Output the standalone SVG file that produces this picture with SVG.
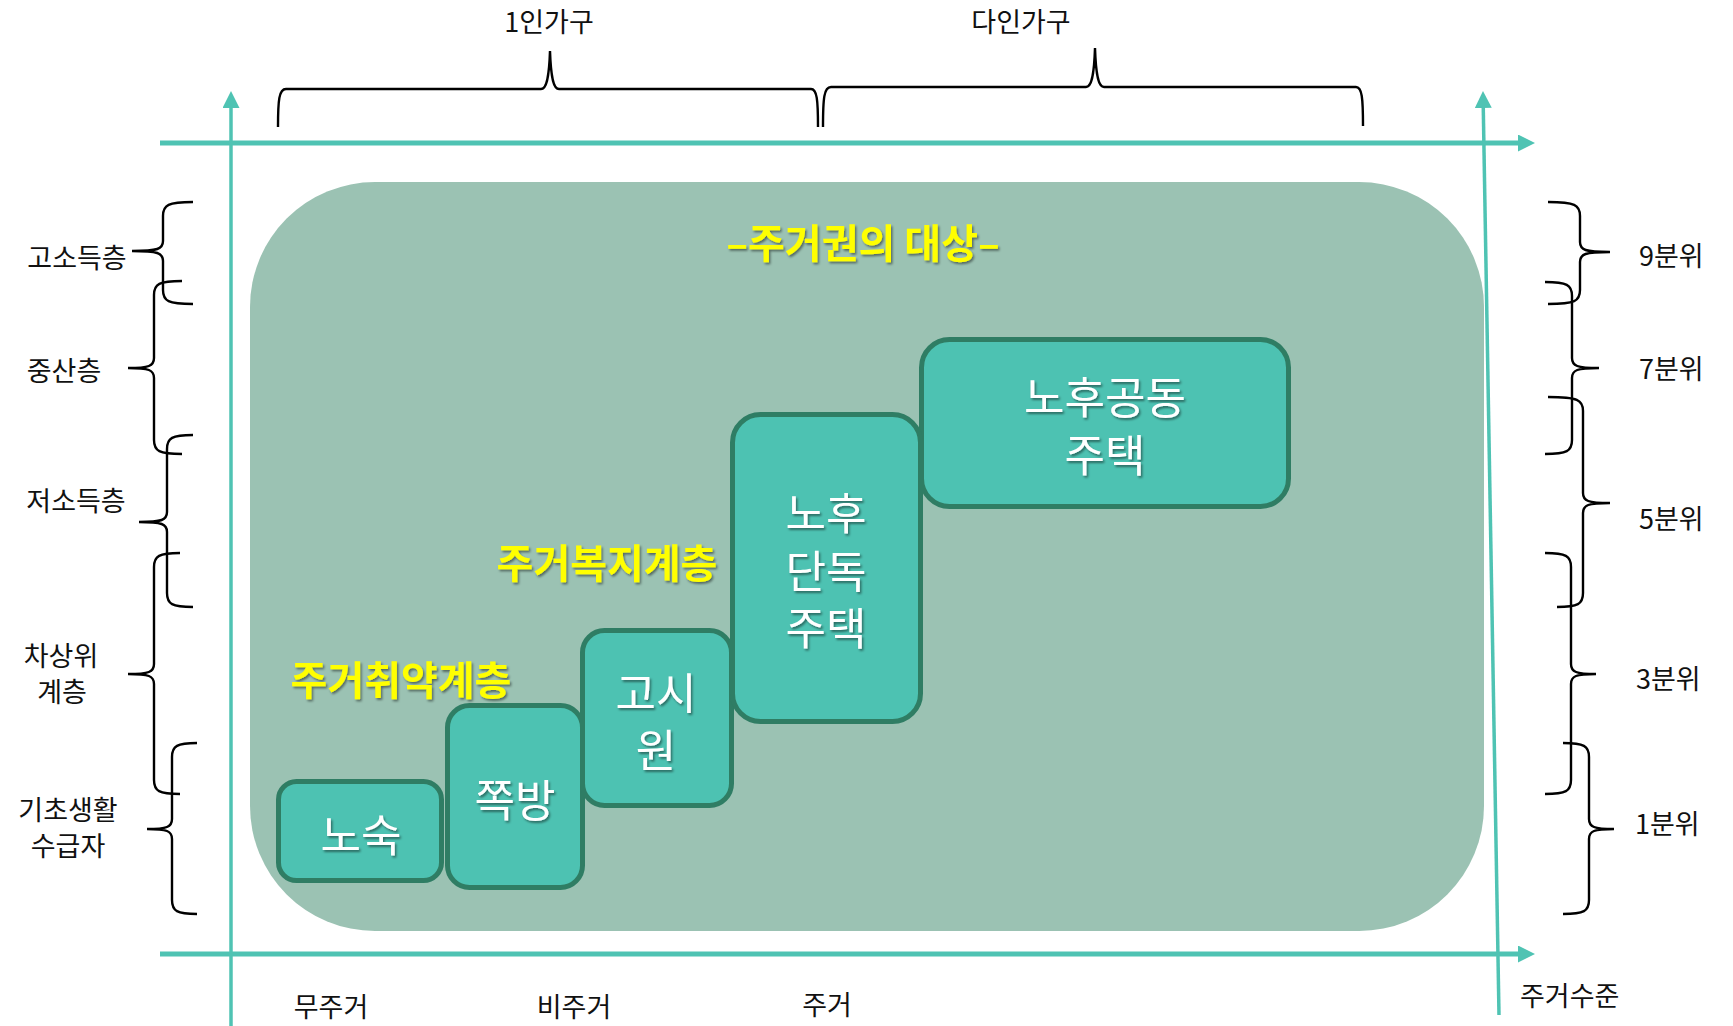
<svg xmlns="http://www.w3.org/2000/svg" width="1733" height="1026" viewBox="0 0 1733 1026">
<style>
.axis{stroke:#4FC3B3;fill:none}
.brace{stroke:#000;stroke-width:2.4;fill:none}
.lbl{font-family:"Noto Sans CJK KR","Noto Sans",sans-serif;font-size:27px;fill:#111}
.node rect{fill:#4DC2B2;stroke:#2F7D64;stroke-width:5}
.ntxt{font-family:"Noto Sans CJK KR","Noto Sans",sans-serif;font-size:44px;fill:#fff;text-anchor:middle;filter:url(#sh)}
.ytxt{font-family:"Noto Sans CJK KR","Noto Sans",sans-serif;font-size:40px;font-weight:bold;fill:#FFFF00;text-anchor:middle;filter:url(#sh)}
.mid{text-anchor:middle}
</style>
<defs>
<filter id="sh" x="-10%" y="-20%" width="130%" height="150%">
<feDropShadow dx="1.5" dy="2" stdDeviation="1" flood-color="#000" flood-opacity="0.45"/>
</filter>
<marker id="ah" markerUnits="userSpaceOnUse" markerWidth="17" markerHeight="17" refX="4" refY="8.5" orient="auto" viewBox="0 0 17 17">
<path d="M0,0 L17,8.5 L0,17 z" fill="#4FC3B3"/>
</marker>
</defs>
<rect width="1733" height="1026" fill="#fff"/>
<g id="background-area">
<rect x="250" y="182" width="1234" height="749" rx="125" ry="125" fill="#9BC2B3"/>
</g>
<g id="connectors">
<line class="axis" x1="160" y1="143" x2="1522" y2="143" stroke-width="5" marker-end="url(#ah)"/>
<line class="axis" x1="160" y1="954" x2="1522" y2="954" stroke-width="5" marker-end="url(#ah)"/>
<line class="axis" x1="231" y1="1026" x2="231" y2="104" stroke-width="3.5" marker-end="url(#ah)"/>
<line class="axis" x1="1499" y1="1015" x2="1483.2" y2="104" stroke-width="3.5" marker-end="url(#ah)"/>
</g>
<g id="braces">
<path class="brace" d="M278,127 C278,100 279,89 286,89 L541,89 C546,89 549,80 550,51 C551,80 554,89 559,89 L811,89 C817,89 818,100 818,127"/>
<path class="brace" d="M823,127 C823,98 824,87 831,87 L1086,87 C1091,87 1094,78 1095,48 C1096,78 1099,87 1104,87 L1356,87 C1362,87 1363,98 1363,126"/>
<path class="brace" d="M193,202 C168,202 163,205 163,216 L163,241 C163,249 158,251 132,251 M132,251 C158,251 163,253 163,261 L163,290 C163,301 168,304 193,304"/>
<path class="brace" d="M182,281 C159,281 154,284 154,295 L154,358 C154,366 149,368 128,368 M128,368 C149,368 154,370 154,378 L154,440 C154,451 159,454 182,454"/>
<path class="brace" d="M193,435 C172,435 167,438 167,449 L167,512 C167,520 162,522 139,522 M139,522 C162,522 167,524 167,532 L167,593 C167,604 172,607 193,607"/>
<path class="brace" d="M180,553 C159,553 154,556 154,567 L154,664 C154,672 149,674 128,674 M128,674 C149,674 154,676 154,684 L154,780 C154,791 159,794 180,794"/>
<path class="brace" d="M197,743 C177,743 172,746 172,757 L172,819 C172,827 167,829 147,829 M147,829 C167,829 172,831 172,839 L172,900 C172,911 177,914 197,914"/>
<path class="brace" d="M1548,202 C1575,202 1580,205 1580,216 L1580,242 C1580,250 1585,252 1610,252 M1610,252 C1585,252 1580,254 1580,262 L1580,290 C1580,301 1575,304 1548,304"/>
<path class="brace" d="M1545,282 C1567,282 1572,285 1572,296 L1572,358 C1572,366 1577,368 1599,368 M1599,368 C1577,368 1572,370 1572,378 L1572,440 C1572,451 1567,454 1545,454"/>
<path class="brace" d="M1548,397 C1578,397 1583,400 1583,411 L1583,493 C1583,501 1588,503 1610,503 M1610,503 C1588,503 1583,505 1583,513 L1583,593 C1583,604 1578,607 1557,607"/>
<path class="brace" d="M1545,553 C1566,553 1571,556 1571,567 L1571,664 C1571,672 1576,674 1596,674 M1596,674 C1576,674 1571,676 1571,684 L1571,780 C1571,791 1566,794 1545,794"/>
<path class="brace" d="M1563,743 C1584,743 1589,746 1589,757 L1589,819 C1589,827 1594,829 1614,829 M1614,829 C1594,829 1589,831 1589,839 L1589,900 C1589,911 1584,914 1563,914"/>
</g>
<g id="top-labels">
<text class="lbl mid" x="549" y="32">1인가구</text>
<text class="lbl mid" x="1021" y="32">다인가구</text>
</g>
<g id="left-labels">
<text class="lbl mid" x="77" y="268">고소득층</text>
<text class="lbl mid" x="64" y="381">중산층</text>
<text class="lbl mid" x="76" y="511">저소득층</text>
<text class="lbl mid" y="666"><tspan x="61">차상위</tspan><tspan x="62" dy="36">계층</tspan></text>
<text class="lbl mid" y="820"><tspan x="68">기초생활</tspan><tspan x="68" dy="36">수급자</tspan></text>
</g>
<g id="right-labels">
<text class="lbl" x="1639" y="266">9분위</text>
<text class="lbl" x="1639" y="379">7분위</text>
<text class="lbl" x="1639" y="529">5분위</text>
<text class="lbl" x="1636" y="689">3분위</text>
<text class="lbl" x="1635" y="834">1분위</text>
<text class="lbl" x="1520" y="1006">주거수준</text>
</g>
<g id="bottom-labels">
<text class="lbl mid" x="331" y="1017">무주거</text>
<text class="lbl mid" x="574" y="1017">비주거</text>
<text class="lbl mid" x="827" y="1015">주거</text>
</g>
<g id="title">
<text class="ytxt" x="863" y="258">–주거권의 대상–</text>
</g>
<g id="label-welfare">
<text class="ytxt" x="607" y="578">주거복지계층</text>
</g>
<g id="label-vulnerable">
<text class="ytxt" x="401" y="695">주거취약계층</text>
</g>
<g id="node-nosuk" class="node">
<rect x="278.5" y="781.5" width="163" height="99" rx="18"/>
<text class="ntxt" x="361" y="852">노숙</text>
</g>
<g id="node-jjokbang" class="node">
<rect x="447.5" y="705.5" width="135" height="182" rx="22"/>
<text class="ntxt" x="515" y="817">쪽방</text>
</g>
<g id="node-gosiwon" class="node">
<rect x="582.5" y="630.5" width="149" height="175" rx="22"/>
<text class="ntxt" y="710"><tspan x="656">고시</tspan><tspan x="656" dy="57">원</tspan></text>
</g>
<g id="node-shared-housing" class="node">
<rect x="921.5" y="339.5" width="367" height="167" rx="28"/>
<text class="ntxt" y="414"><tspan x="1105">노후공동</tspan><tspan x="1105" dy="58">주택</tspan></text>
</g>
<g id="node-detached" class="node">
<rect x="732.5" y="414.5" width="188" height="307" rx="28"/>
<text class="ntxt" y="530"><tspan x="826">노후</tspan><tspan x="826" dy="58">단독</tspan><tspan x="826" dy="57">주택</tspan></text>
</g>
</svg>
